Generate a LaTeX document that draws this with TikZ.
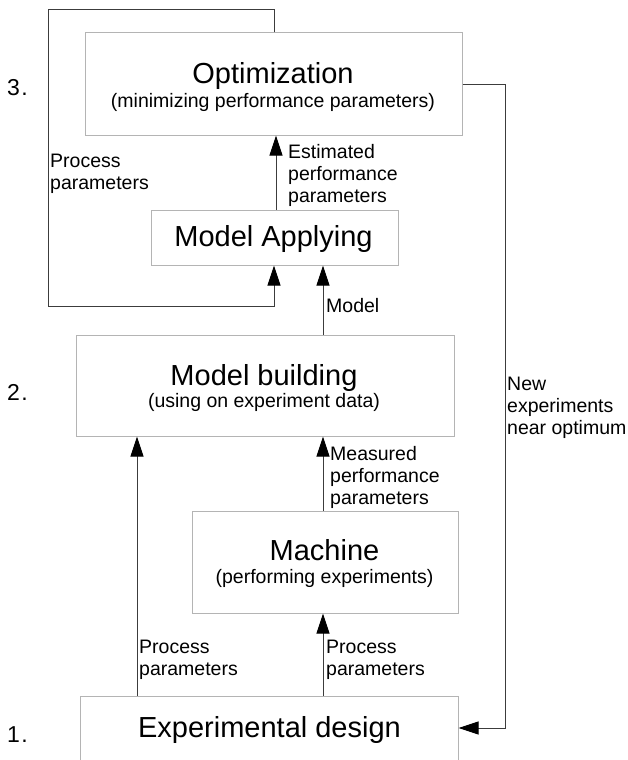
\documentclass[tikz,border=0pt]{standalone}
\usepackage{fontspec}
\setmainfont{Liberation Sans}
\usetikzlibrary{arrows.meta}
\definecolor{boxgray}{HTML}{B4B4B4}
\definecolor{linegray}{HTML}{3C3C3C}
\newcommand\mylines[1]{\begin{tabular}[t]{@{}l@{}}#1\end{tabular}}
\tikzset{
  box/.style={draw=boxgray, line width=1pt, inner sep=0pt, fill=white},
  ttl/.style={font=\fontsize{29}{33}\selectfont, inner sep=0pt, anchor=base},
  sub/.style={font=\fontsize{19.5}{22}\selectfont, inner sep=0pt, anchor=base},
  lab/.style={font=\fontsize{19.5}{22}\selectfont, inner sep=0pt, anchor=base west},
  num/.style={font=\fontsize{23}{26}\selectfont, inner sep=0pt, anchor=base west},
  conn/.style={draw=linegray, line width=1pt},
  arr/.style={conn, -{Triangle[length=20pt,width=13pt,color=black]}}
}
\begin{document}
\begin{tikzpicture}[x=1pt,y=-1pt]
\clip (0,0) rectangle (627,760);
\fill[white] (0,0) rectangle (627,760);

% boxes
\node[box, minimum width=377pt, minimum height=102pt] (opt) at (273.5,84) {};
\node[box, minimum width=247pt, minimum height=55pt] (apply) at (274.5,237.5) {};
\node[box, minimum width=378pt, minimum height=101pt] (build) at (265,385.5) {};
\node[box, minimum width=266pt, minimum height=102pt] (machine) at (325,562) {};
\node[box, minimum width=378pt, minimum height=70pt] (exp) at (269,731) {};

% box texts
\node[ttl] (optT) at (273,83) {Optimization};
\node[sub] (optS) at (273,107) {(minimizing performance parameters)};
\node[ttl] (applyT) at (273.5,246) {Model Applying};
\node[ttl] (buildT) at (264,385) {Model building};
\node[sub] (buildS) at (264,407) {(using on experiment data)};
\node[ttl] (machT) at (324.5,560) {Machine};
\node[sub] (machS) at (324.5,583) {(performing experiments)};
\node[ttl] (expT) at (269.5,737) {Experimental design};

% level numbers
\node[num] (n3) at (7,95) {3\kern1.5pt.};
\node[num] (n2) at (7,400) {2\kern1.5pt.};
\node[num] (n1) at (7,742) {1\kern1.5pt.};

% helper coordinates
\coordinate (ax1) at (274,0);
\coordinate (ax2) at (276,0);
\coordinate (ax3) at (323,0);
\coordinate (ax4) at (137,0);
\coordinate (ltl) at (48,10);
\coordinate (lbl) at (48,306);
\coordinate (rtop) at (505,84);
\coordinate (rbot) at (505,728);

% connectors
\draw[arr] (opt.north -| ax1) -- (ax1 |- ltl) -- (ltl) -- (lbl) -- (ax1 |- lbl) -- (apply.south -| ax1);
\draw[arr] (apply.north -| ax2) -- (opt.south -| ax2);
\draw[arr] (build.north -| ax3) -- (apply.south -| ax3);
\draw[arr] (machine.north -| ax3) -- (build.south -| ax3);
\draw[arr] (exp.north -| ax3) -- (machine.south -| ax3);
\draw[arr] (exp.north -| ax4) -- (build.south -| ax4);
\draw[arr] (opt.east) -- (rtop) -- (rbot) -- (exp.east |- rbot);

% connector labels
\node[lab] (lProcTop) at (50,167) {\mylines{Process\\parameters}};
\node[lab] (lEst) at (288,158) {\mylines{Estimated\\performance\\parameters}};
\node[lab] (lModel) at (326,312) {Model};
\node[lab] (lMeas) at (330,460) {\mylines{Measured\\performance\\parameters}};
\node[lab] (lProcMid) at (326,653) {\mylines{Process\\parameters}};
\node[lab] (lProcLeft) at (139,653) {\mylines{Process\\parameters}};
\node[lab] (lNew) at (507,390) {\mylines{New\\experiments\\near optimum}};
\end{tikzpicture}
\end{document}
